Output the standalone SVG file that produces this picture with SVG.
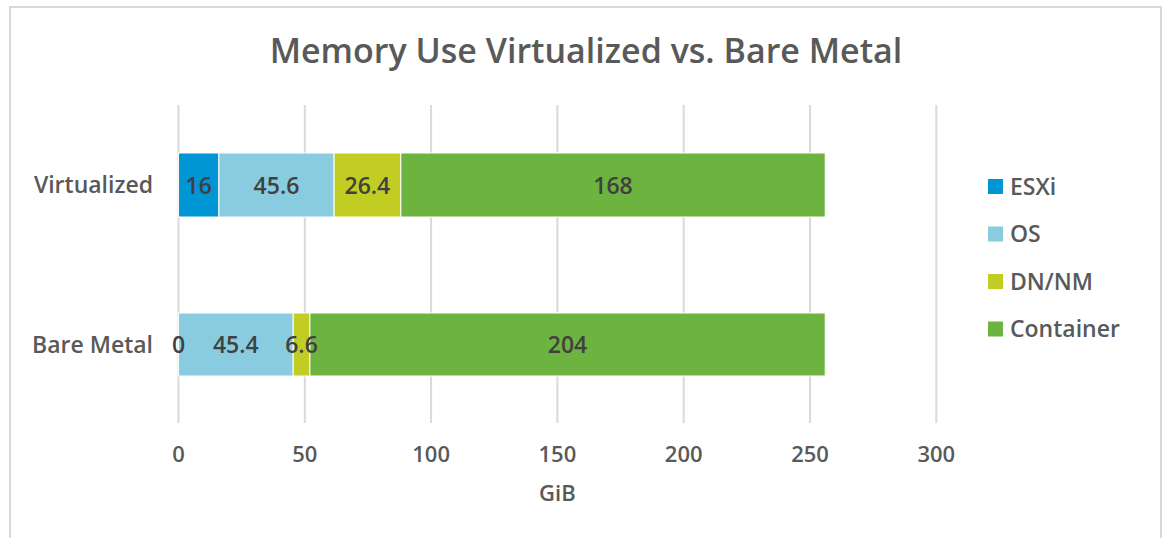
<svg xmlns="http://www.w3.org/2000/svg" width="1166" height="538" viewBox="0 0 1166 538">
  <style>
    text { font-family: "Open Sans", "Liberation Sans", sans-serif; fill: #595959; font-weight: 600; }
    .title { font-size: 34px; text-anchor: middle; }
    .cat { font-size: 23px; text-anchor: end; }
    .tick { font-size: 22px; text-anchor: middle; }
    .val { font-size: 23px; text-anchor: middle; fill: #404040; }
    .leg { font-size: 23px; }
    .grid { stroke: #d9d9d9; stroke-width: 2; }
    .seg { stroke: #ffffff; stroke-width: 1; }
    .esxi { fill: #0095d3; }
    .os { fill: #89cbdf; }
    .dn { fill: #c1cd23; }
    .cont { fill: #6db33f; }
  </style>

  <!-- chart frame -->
  <rect x="0" y="0" width="1166" height="538" fill="#ffffff"/>
  <rect x="10" y="7" width="1151" height="540" fill="none" stroke="#d9d9d9" stroke-width="2"/>

  <text class="title" x="586" y="63">Memory Use Virtualized vs. Bare Metal</text>

  <!-- vertical gridlines, 50 GiB apart -->
  <g id="gridlines">
    <line class="grid" x1="178.5" y1="105" x2="178.5" y2="423"/>
    <line class="grid" x1="304.8" y1="105" x2="304.8" y2="423"/>
    <line class="grid" x1="431.1" y1="105" x2="431.1" y2="423"/>
    <line class="grid" x1="557.4" y1="105" x2="557.4" y2="423"/>
    <line class="grid" x1="683.7" y1="105" x2="683.7" y2="423"/>
    <line class="grid" x1="810" y1="105" x2="810" y2="423"/>
    <line class="grid" x1="936.3" y1="105" x2="936.3" y2="423"/>
  </g>

  <!-- x axis ticks -->
  <g id="x-axis">
    <text class="tick" x="178.5" y="462">0</text>
    <text class="tick" x="304.8" y="462">50</text>
    <text class="tick" x="431.1" y="462">100</text>
    <text class="tick" x="557.4" y="462">150</text>
    <text class="tick" x="683.7" y="462">200</text>
    <text class="tick" x="810" y="462">250</text>
    <text class="tick" x="936.3" y="462">300</text>
    <text class="tick" x="557.4" y="501">GiB</text>
  </g>

  <!-- Virtualized bar -->
  <g id="bar-virtualized">
    <text class="cat" x="153" y="193">Virtualized</text>
    <rect class="seg esxi" x="178.5" y="153" width="40.4" height="64"/>
    <rect class="seg os" x="218.9" y="153" width="115.2" height="64"/>
    <rect class="seg dn" x="334.1" y="153" width="66.7" height="64"/>
    <rect class="seg cont" x="400.8" y="153" width="424.4" height="64"/>
    <text class="val" x="198.7" y="194">16</text>
    <text class="val" x="276.5" y="194">45.6</text>
    <text class="val" x="367.4" y="194">26.4</text>
    <text class="val" x="613" y="194">168</text>
  </g>

  <!-- Bare Metal bar -->
  <g id="bar-bare-metal">
    <text class="cat" x="153" y="353">Bare Metal</text>
    <rect class="seg os" x="178.5" y="313" width="114.7" height="63"/>
    <rect class="seg dn" x="293.2" y="313" width="16.7" height="63"/>
    <rect class="seg cont" x="309.9" y="313" width="515.3" height="63"/>
    <text class="val" x="178.5" y="353">0</text>
    <text class="val" x="235.8" y="353">45.4</text>
    <text class="val" x="301.5" y="353">6.6</text>
    <text class="val" x="567.5" y="353">204</text>
  </g>

  <!-- legend -->
  <g id="legend">
    <rect class="esxi" x="988" y="179" width="15" height="15"/>
    <text class="leg" x="1010" y="195">ESXi</text>
    <rect class="os" x="988" y="226.5" width="15" height="15"/>
    <text class="leg" x="1010" y="242">OS</text>
    <rect class="dn" x="988" y="274" width="15" height="15"/>
    <text class="leg" x="1010" y="289.5">DN/NM</text>
    <rect class="cont" x="988" y="321.5" width="15" height="15"/>
    <text class="leg" x="1010" y="337">Container</text>
  </g>
</svg>
